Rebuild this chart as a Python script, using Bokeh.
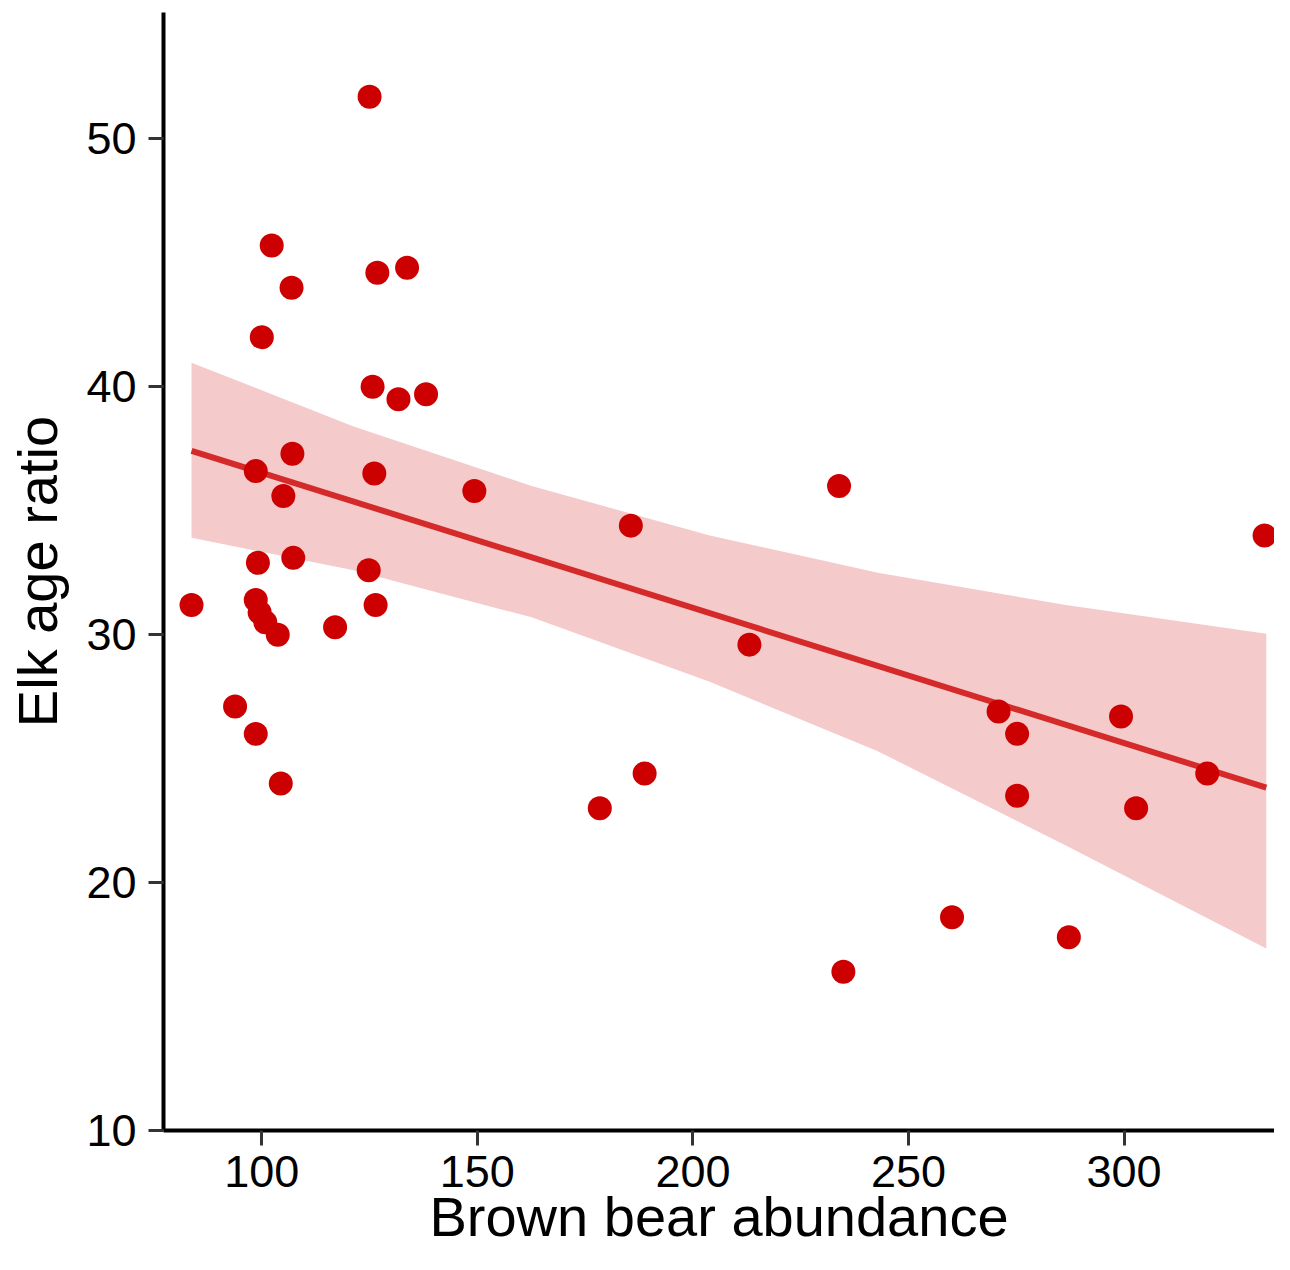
from bokeh.plotting import figure
from bokeh.models import FixedTicker, Range1d
from bokeh.embed import file_html
from bokeh.resources import INLINE

# Data
bear_abundance = [83.7, 93.8, 98.6, 104.4, 98.6, 99.5, 100.8, 103.7, 99.1, 98.6,
                  105.0, 107.3, 107.1, 100.0, 102.3, 106.9, 117.0, 125.0, 126.8, 133.7,
                  125.7, 131.7, 138.1, 126.1, 124.8, 126.4, 149.3, 178.4, 185.6, 188.8,
                  213.1, 233.9, 234.9, 260.1, 270.9, 275.2, 275.2, 287.2, 299.3, 302.8,
                  319.3, 332.6]
elk_age_ratio = [31.2, 27.1, 26.0, 24.0, 31.4, 30.9, 30.5, 30.0, 32.9, 36.6,
                 35.6, 33.1, 37.3, 42.0, 45.7, 44.0, 30.3, 51.7, 44.6, 44.8,
                 40.0, 39.5, 39.7, 36.5, 32.6, 31.2, 35.8, 23.0, 34.4, 24.4,
                 29.6, 36.0, 16.4, 18.6, 26.9, 26.0, 23.5, 17.8, 26.7, 23.0,
                 24.4, 34.0]

# Fitted line and its confidence band
fit_x = [83.7, 333.0]
fit_y = [37.42, 23.83]
band_x = [83.7, 121.3, 162.6, 203.9, 242.9, 286.5, 333.0]
band_hi = [40.97, 38.4, 36.0, 34.0, 32.5, 31.2, 30.04]
band_lo = [33.91, 32.6, 30.7, 28.1, 25.3, 21.5, 17.34]

x_ticks = [100, 150, 200, 250, 300]
y_ticks = [10, 20, 30, 40, 50]

p = figure(width=1274, height=1254,
           x_range=Range1d(77.2, 334.9), y_range=Range1d(10, 55.1),
           output_backend="svg", toolbar_location=None,
           min_border_left=163, min_border_right=0,
           min_border_top=12, min_border_bottom=124)
p.outline_line_color = None
p.grid.visible = False
p.background_fill_color = "white"

p.varea(x=band_x, y1=band_lo, y2=band_hi, fill_color="#F4CACA", fill_alpha=1.0)
p.line(fit_x, fit_y, line_color="#D42A2A", line_width=6)
p.scatter(bear_abundance, elk_age_ratio, size=24, fill_color="#CC0000", line_color=None)

p.xaxis.ticker = FixedTicker(ticks=x_ticks)
p.yaxis.ticker = FixedTicker(ticks=y_ticks)
p.xaxis.axis_label = "Brown bear abundance"
p.yaxis.axis_label = "Elk age ratio"

for ax in (p.xaxis[0], p.yaxis[0]):
    ax.axis_line_color = "black"
    ax.axis_line_width = 4
    ax.major_tick_line_color = "#333333"
    ax.major_tick_line_width = 3
    ax.major_tick_out = 15
    ax.major_tick_in = 0
    ax.minor_tick_out = 0
    ax.minor_tick_in = 0
    ax.major_label_text_font = "Liberation Sans"
    ax.major_label_text_font_size = "45px"
    ax.major_label_text_color = "black"
    ax.axis_label_text_font = "Liberation Sans"
    ax.axis_label_text_font_size = "56px"
    ax.axis_label_text_font_style = "normal"
    ax.axis_label_text_color = "black"

p.xaxis.major_label_standoff = 10
p.xaxis.axis_label_standoff = -5
p.yaxis.major_label_standoff = 12
p.yaxis.axis_label_standoff = 14

open("out.html", "w").write(file_html(p, INLINE))
